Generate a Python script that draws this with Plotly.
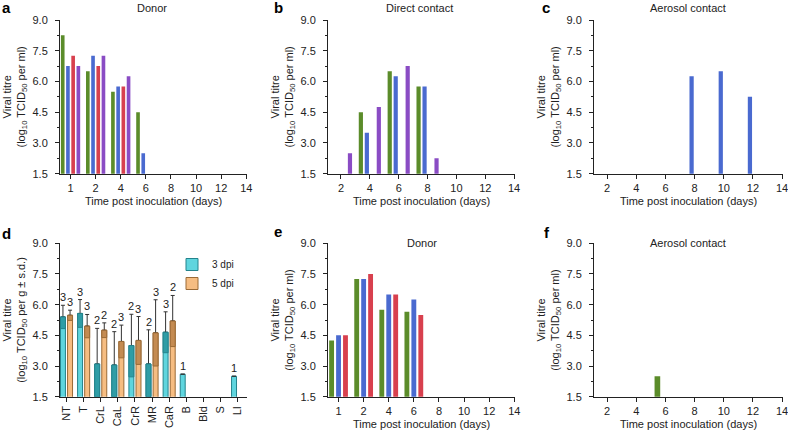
import plotly.graph_objects as go

W, H = 788, 432

# ---------------- data ----------------
ticks_from1 = ["1", "2", "4", "6", "8", "10", "12", "14"]
ticks_from2 = ["2", "4", "6", "8", "10", "12", "14"]

# panel a - donor
a_days = ["1", "2", "4", "6"]
a_green = [8.25, 6.5, 5.5, 4.5]
a_blue = [6.75, 7.25, 5.75, 2.5]
a_red = [7.25, 6.75, 5.75, None]
a_purple = [6.75, 7.25, 6.25, None]

# panel b - direct contact
b_days = ["2", "4", "6", "8"]
b_green = [None, 4.5, 6.5, 5.75]
b_blue = [None, 3.5, 6.25, 5.75]
b_red = [None, None, None, None]
b_purple = [2.5, 4.75, 6.75, 2.25]

# panel c - aerosol contact
c_days = ["8", "10", "12"]
c_green = [None, None, None]
c_blue = [6.25, 6.5, 5.25]
c_red = [None, None, None]
c_purple = [None, None, None]

# panel d - tissues
d_tissues = ["NT", "T", "CrL", "CaL", "CrR", "MR", "CaR", "B", "Bld", "S", "LI"]
d3_mean = [5.4, 5.57, 3.1, 3.05, 4.0, 3.1, 4.65, 2.6, None, None, 2.5]
d3_sd = [0.57, 0.68, 1.74, 1.63, 1.53, 1.67, 1.0, None, None, None, None]
d3_n = [3, 3, 2, 2, 2, 2, 3, 1, None, None, 1]
d5_mean = [5.48, 4.95, 4.75, 4.2, 4.25, 4.62, 5.2, None, None, None, None]
d5_sd = [0.25, 0.57, 0.36, 0.8, 1.17, 1.62, 1.25, None, None, None, None]
d5_n = [3, 3, 2, 3, 3, 3, 2, None, None, None, None]

# panel e - donor
e_days = ["1", "2", "4", "6"]
e_green = [4.25, 7.25, 5.75, 5.65]
e_blue = [4.5, 7.25, 6.5, 6.25]
e_red = [4.5, 7.5, 6.5, 5.5]

# panel f - aerosol contact
f_days = ["6"]
f_green = [2.5]
f_blue = [None]
f_red = [None]

# ---------------- style ----------------
FONT = "Liberation Sans, Arial, Helvetica, sans-serif"
TXT = "#222222"
GREEN = "#5b8c2a"
BLUE = "#4a6ad0"
RED = "#d8404e"
PURPLE = "#8a4cc4"
CYAN = "#5fd5de"
CYAN_LINE = "#24838c"
CYAN_BAND = "#2f9da6"
ORANGE = "#f6bd82"
ORANGE_LINE = "#9a6a36"
ORANGE_BAND = "#c48b52"
BARGAP = 0.17

YMIN, YMAX = 1.5, 9.0


def dom_x(x0, x1):
    return [x0 / W, x1 / W]


def dom_y(top, bottom):
    return [1 - bottom / H, 1 - top / H]


fig = go.Figure()


def add_bars(k, cats, series):
    for vals, color in series:
        fig.add_trace(go.Bar(
            x=cats, y=vals, marker=dict(color=color, line=dict(width=0)),
            xaxis="x" + ("" if k == 1 else str(k)),
            yaxis="y" + ("" if k == 1 else str(k)),
            showlegend=False, hoverinfo="x+y"))


add_bars(1, a_days, [(a_green, GREEN), (a_blue, BLUE), (a_red, RED), (a_purple, PURPLE)])
add_bars(2, b_days, [(b_green, GREEN), (b_blue, BLUE), (b_red, RED), (b_purple, PURPLE)])
add_bars(3, c_days, [(c_green, GREEN), (c_blue, BLUE), (c_red, RED), (c_purple, PURPLE)])
add_bars(5, e_days, [(e_green, GREEN), (e_blue, BLUE), (e_red, RED)])
add_bars(6, f_days, [(f_green, GREEN), (f_blue, BLUE), (f_red, RED)])


# panel d: mean bars, error bars (+sd) and darker band for the -sd part
def band(mean, sd):
    base, height = [], []
    for m, s in zip(mean, sd):
        if m is None or s is None:
            base.append(None)
            height.append(None)
        else:
            b = max(m - s, YMIN)
            base.append(b)
            height.append(m - b)
    return base, height


for name, mean, sd, fill, line, bandc in [
        ("3 dpi", d3_mean, d3_sd, CYAN, CYAN_LINE, CYAN_BAND),
        ("5 dpi", d5_mean, d5_sd, ORANGE, ORANGE_LINE, ORANGE_BAND)]:
    fig.add_trace(go.Bar(
        x=d_tissues, y=mean, name=name, offsetgroup=name,
        marker=dict(color=fill, line=dict(color=line, width=1)),
        error_y=dict(type="data", symmetric=False,
                     array=[s if s is not None else 0 for s in sd],
                     arrayminus=[0] * len(sd),
                     color="#333333", thickness=1, width=2),
        xaxis="x4", yaxis="y4", showlegend=True))
    b, h = band(mean, sd)
    fig.add_trace(go.Bar(
        x=d_tissues, y=h, base=b, offsetgroup=name,
        marker=dict(color=bandc, line=dict(color=line, width=1)),
        xaxis="x4", yaxis="y4", showlegend=False, hoverinfo="skip"))

# n labels above the error bars
slot = (1 - BARGAP) / 4
annotations = []
for sign, mean, sd, ns in [(-1, d3_mean, d3_sd, d3_n), (1, d5_mean, d5_sd, d5_n)]:
    for i, (m, s, n) in enumerate(zip(mean, sd, ns)):
        if m is None or n is None:
            continue
        top = m + (s or 0)
        annotations.append(dict(
            x=i + sign * slot, y=top, xref="x4", yref="y4", text=str(n),
            showarrow=False, yanchor="bottom", yshift=0,
            font=dict(size=11, color=TXT, family=FONT)))

# ---------------- axes ----------------
cols = {"L": (60, 247), "M": (328, 515), "R": (594, 783)}
top_row = (20, 173.7)
bot_row = (243.3, 396.7)

panels = {
    1: ("L", top_row, ticks_from1, [-0.42, 7.03]),
    2: ("M", top_row, ticks_from2, [-0.45, 6.03]),
    3: ("R", top_row, ticks_from2, [-0.45, 6.03]),
    4: ("L", bot_row, d_tissues, [-0.38, 10.55]),
    5: ("M", bot_row, ticks_from1, [-0.42, 7.03]),
    6: ("R", bot_row, ticks_from2, [-0.45, 6.03]),
}

ytitle_ml = "Viral titre<br>(log<sub>10</sub> TCID<sub>50</sub> per ml)"
ytitle_g = "Viral titre<br>(log<sub>10</sub> TCID<sub>50</sub> per g ± s.d.)"

layout_axes = {}
for k, (col, row, cats, rng) in panels.items():
    sx = "" if k == 1 else str(k)
    xd = dom_x(*cols[col])
    yd = dom_y(*row)
    xa = dict(domain=xd, anchor="y" + sx, type="category",
              categoryorder="array", categoryarray=cats, range=rng,
              showline=True, linecolor=TXT, linewidth=1, mirror=False,
              ticks="outside", ticklen=4, tickwidth=1, tickcolor=TXT,
              showgrid=False, zeroline=False, automargin=False,
              tickfont=dict(size=11, color=TXT, family=FONT))
    if k == 4:
        xa.update(tickangle=-90, tickvals=cats, ticktext=cats)
    else:
        xa.update(tickmode="array", tickvals=cats, ticktext=cats,
                  title=dict(text="Time post inoculation (days)", standoff=4,
                             font=dict(size=11, color=TXT, family=FONT)))
    ya = dict(domain=yd, anchor="x" + sx, range=[YMIN, YMAX],
              tick0=1.5, dtick=1.5, tickformat=".1f",
              showline=True, linecolor=TXT, linewidth=1,
              ticks="outside", ticklen=4, tickwidth=1, tickcolor=TXT,
              ticklabelstandoff=5,
              minor=dict(tick0=1.5, dtick=0.75, ticks="outside", ticklen=2,
                         tickcolor=TXT, showgrid=False),
              showgrid=False, zeroline=False, automargin=False,
              tickfont=dict(size=11, color=TXT, family=FONT),
              title=dict(text=ytitle_g if k == 4 else ytitle_ml, standoff=4,
                         font=dict(size=11, color=TXT, family=FONT)))
    layout_axes["xaxis" + sx] = xa
    layout_axes["yaxis" + sx] = ya

# ---------------- panel labels & titles ----------------
def paper_text(x, y, text, bold=False, anchor="center", size=11):
    return dict(x=x / W, y=1 - y / H, xref="paper", yref="paper",
                text=("<b>%s</b>" % text) if bold else text, showarrow=False,
                xanchor=anchor, yanchor="middle",
                font=dict(size=size, color="#000000" if bold else TXT, family=FONT))


for letter, x, y in [("a", 0, 7), ("b", 272, 7), ("c", 540, 7),
                     ("d", 0, 233), ("e", 272, 231), ("f", 542, 232)]:
    annotations.append(paper_text(x, y, letter, bold=True, anchor="left", size=15))

for title, x, y in [("Donor", 152, 8), ("Direct contact", 419, 8),
                    ("Aerosol contact", 688, 8), ("Donor", 422, 243),
                    ("Aerosol contact", 688, 243)]:
    annotations.append(paper_text(x, y, title))

fig.update_layout(
    width=W, height=H,
    margin=dict(l=0, r=0, t=0, b=0),
    paper_bgcolor="white", plot_bgcolor="white",
    barmode="group", bargap=BARGAP, bargroupgap=0.3,
    font=dict(family=FONT, size=11, color=TXT),
    legend=dict(x=172 / W, y=1 - 250 / H, xanchor="left", yanchor="top",
                bgcolor="rgba(0,0,0,0)", font=dict(size=10, color=TXT, family=FONT),
                itemwidth=30, tracegroupgap=0),
    annotations=annotations,
    **layout_axes)

fig.write_html("out.html", config={"displayModeBar": False},
               post_script="document.body.style.margin='0';document.body.style.padding='0';")
